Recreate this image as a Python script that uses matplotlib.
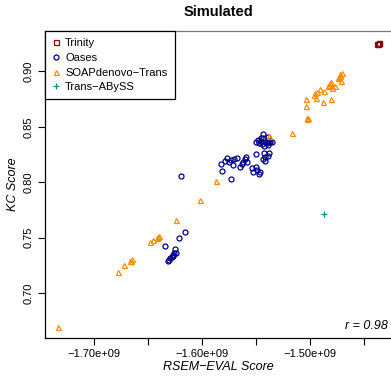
"""KC score vs RSEM-EVAL score, simulated data"""

import numpy as np
import matplotlib
matplotlib.use("Agg")
import matplotlib.pyplot as plt

plt.rcParams["font.family"] = ["Liberation Sans", "DejaVu Sans"]

# RSEM-EVAL scores in units of 1e9, KC scores as is
trinity_x = [-1.4380, -1.4370, -1.4362, -1.4373]
trinity_y = [0.9250, 0.9258, 0.9252, 0.9243]

oases_x = [-1.5441, -1.5503, -1.5482, -1.5472, -1.5459, -1.5456, -1.5447, -1.5435,
           -1.5426, -1.5404, -1.5394, -1.5389, -1.5380, -1.5373, -1.5355, -1.5389,
           -1.5500, -1.5429, -1.5382, -1.5394, -1.5417, -1.5441, -1.5417, -1.5543,
           -1.5506, -1.5497, -1.5533, -1.5463, -1.5475,
           -1.5824, -1.5793, -1.5769, -1.5753, -1.5737, -1.5716, -1.5704, -1.5681,
           -1.5651, -1.5635, -1.5620, -1.5605, -1.5595, -1.5589, -1.5820, -1.5731,
           -1.6194,
           -1.6154, -1.6216, -1.6339, -1.6251, -1.6262, -1.6274, -1.6246, -1.6283,
           -1.6296, -1.6306, -1.6315, -1.6271]
oases_y = [0.8438, 0.8367, 0.8381, 0.8357, 0.8395, 0.8372, 0.8349, 0.8396,
           0.8330, 0.8351, 0.8405, 0.8375, 0.8366, 0.8363, 0.8361, 0.8336,
           0.8252, 0.8261, 0.8267, 0.8237, 0.8225, 0.8213, 0.8192, 0.8126,
           0.8140, 0.8111, 0.8090, 0.8093, 0.8075,
           0.8167, 0.8195, 0.8216, 0.8185, 0.8201, 0.8158, 0.8210, 0.8219,
           0.8140, 0.8165, 0.8185, 0.8207, 0.8225, 0.8185, 0.8104, 0.8032,
           0.8059,
           0.7549, 0.7496, 0.7426, 0.7402, 0.7360, 0.7345, 0.7366, 0.7327,
           0.7315, 0.7300, 0.7294, 0.7339]

soap_x = [-1.4722, -1.4730, -1.4710, -1.4740, -1.4741, -1.4713,
          -1.4820, -1.4830, -1.4810, -1.4800, -1.4840, -1.4802, -1.4769,
          -1.4910, -1.4873, -1.4956, -1.4970, -1.4940, -1.5040, -1.4947,
          -1.4880, -1.4806, -1.5037, -1.5028, -1.5020, -1.5035, -1.5169,
          -1.5380, -1.5876, -1.6019, -1.6244, -1.6410, -1.6400, -1.6420,
          -1.6454, -1.6481, -1.6660, -1.6650, -1.6670, -1.6722, -1.6778,
          -1.7336]
soap_y = [0.8973, 0.8960, 0.8980, 0.8950, 0.8937, 0.8913,
          0.8890, 0.8880, 0.8900, 0.8870, 0.8870, 0.8847, 0.8868,
          0.8838, 0.8825, 0.8802, 0.8790, 0.8810, 0.8748, 0.8755,
          0.8722, 0.8752, 0.8683, 0.8568, 0.8580, 0.8575, 0.8441,
          0.8414, 0.8007, 0.7842, 0.7660, 0.7504, 0.7515, 0.7495,
          0.7480, 0.7465, 0.7294, 0.7305, 0.7288, 0.7255, 0.7194,
          0.6699]

abyss_x = [-1.4870]
abyss_y = [0.7712]

xticks = [-1.70, -1.65, -1.60, -1.55, -1.50, -1.45]
xtick_labels = ["\u22121.70e+09", "", "\u22121.60e+09", "", "\u22121.50e+09", ""]
yticks = [0.70, 0.75, 0.80, 0.85, 0.90]

fig = plt.figure(figsize=(3.91, 3.76), dpi=100)
ax = fig.add_axes([0.1143, 0.1011, 0.8857, 0.8165])

style = dict(linestyle="none", markerfacecolor="none", markersize=3.6,
             markeredgewidth=0.9)
ax.plot(np.array(trinity_x) * 1e9, trinity_y, marker="s", color="#8B0000",
        label="Trinity", **style)
ax.plot(np.array(oases_x) * 1e9, oases_y, marker="o", color="#00008B",
        label="Oases", **style)
ax.plot(np.array(soap_x) * 1e9, soap_y, marker="^", color="#FF8C00",
        label="SOAPdenovo\u2212Trans", **style)
ax.plot(np.array(abyss_x) * 1e9, abyss_y, marker="+", color="#008B8B",
        label="Trans\u2212ABySS", linestyle="none", markersize=5,
        markeredgewidth=0.9)

ax.set_xlim(-1.7455e9, -1.4255e9)
ax.set_ylim(0.6597, 0.9363)
ax.set_xticks(np.array(xticks) * 1e9)
ax.set_xticklabels(xtick_labels)
ax.set_yticks(yticks)
ax.set_yticklabels([f"{v:.2f}" for v in yticks], rotation=90, va="center")
ax.tick_params(direction="out", length=5, width=0.8, labelsize=8, pad=3)

ax.spines["right"].set_visible(False)
ax.spines["top"].set_color("#7a7a7a")
for s in ("left", "bottom", "top"):
    ax.spines[s].set_linewidth(0.9)

leg = ax.legend(loc="upper left", bbox_to_anchor=(0, 1), borderaxespad=0,
                fancybox=False, edgecolor="black", framealpha=1, fontsize=8,
                handlelength=0.7, handletextpad=0.5, labelspacing=0.42,
                borderpad=0.65)
leg.get_frame().set_linewidth(0.9)

ax.text(0.99, 0.02, "r = 0.98", transform=ax.transAxes, ha="right",
        va="bottom", fontsize=9, style="italic")

fig.text(218 / 391, 1 - 12 / 376, "Simulated", ha="center", va="center",
         fontsize=10.5, fontweight="bold")
fig.text(218 / 391, 1 - 367.5 / 376, "RSEM\u2212EVAL Score", ha="center",
         va="center", fontsize=9, style="italic")
fig.text(13.5 / 391, 1 - 184.5 / 376, "KC Score", ha="center", va="center",
         fontsize=9, style="italic", rotation=90)

plt.savefig("out.png", dpi=100)
plt.close()
